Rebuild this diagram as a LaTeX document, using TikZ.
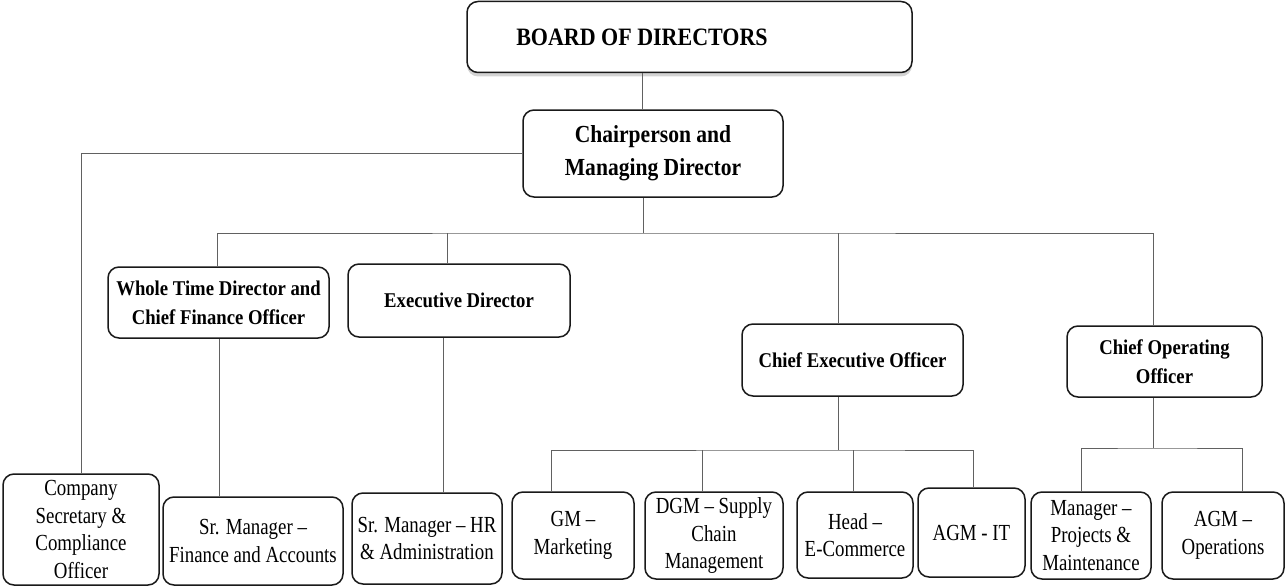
\documentclass[tikz,border=0pt]{standalone}
\usepackage{fontspec}
\setmainfont{Liberation Serif}
\newfontfamily\regf[FakeStretch=0.82,Ligatures=TeX]{Liberation Serif}
\newfontfamily\bldf[FakeStretch=0.89,Ligatures=TeX]{Liberation Serif}
\newfontfamily\topf[FakeStretch=0.88,Ligatures=TeX]{Liberation Serif}
\usetikzlibrary{shadows}
\tikzset{
  box/.style={draw=black!90, line width=1.5pt, rounded corners=11pt, fill=white, inner sep=1pt, align=center},
  lowbox/.style={box, font=\regf\fontsize{23}{27.5}\selectfont},
  midbox/.style={box, font=\bldf\bfseries\fontsize{21}{29}\selectfont},
  topbox/.style={box, font=\topf\bfseries\fontsize{24.5}{33}\selectfont},
  conn/.style={draw=black!62, line width=1pt},
}
\begin{document}
\begin{tikzpicture}[x=1pt,y=-1pt]
\useasboundingbox (0,0) rectangle (1286,586);
% top levels
\node[box, font=\topf\bfseries\fontsize{25}{29}\selectfont, minimum width=445pt, minimum height=71pt,
      drop shadow={shadow xshift=0pt, shadow yshift=-4pt, opacity=0.35}] (board) at (689.5,37)
      {\hspace*{-95pt}BOARD OF DIRECTORS};
\node[topbox, minimum width=260pt, minimum height=87pt] (chair) at (653,153.5) {Chairperson and\\Managing Director};
% second level
\node[midbox, minimum width=221pt, minimum height=71pt] (wtd) at (218.5,302.5) {Whole Time Director and\\Chief Finance Officer};
\node[midbox, minimum width=222pt, minimum height=73pt] (ed) at (459,300.5) {Executive Director};
\node[midbox, minimum width=221pt, minimum height=72pt] (ceo) at (852.5,360) {Chief Executive Officer};
\node[midbox, minimum width=195pt, minimum height=71pt] (coo) at (1164.5,361.5) {Chief Operating\\Officer};
% bottom level
\node[lowbox, minimum width=156pt, minimum height=111pt] (cs) at (81,529.5) {Company\\Secretary \&\\Compliance\\Officer};
\node[lowbox, minimum width=180pt, minimum height=88pt] (srfin) at (253,541) {Sr. Manager –\\Finance and Accounts};
\node[lowbox, minimum width=150pt, minimum height=91pt] (srhr) at (427,538.5) {Sr. Manager – HR\\\& Administration};
\node[lowbox, minimum width=122pt, minimum height=87pt] (gm) at (573,535.5) {GM –\\Marketing};
\node[lowbox, minimum width=138pt, minimum height=87pt] (dgm) at (714,535.5) {DGM – Supply\\Chain\\Management};
\node[lowbox, minimum width=116pt, minimum height=86pt] (head) at (855,535) {Head –\\E-Commerce};
\node[lowbox, minimum width=107pt, minimum height=89pt] (agmit) at (971.5,532.5) {AGM - IT};
\node[lowbox, minimum width=120pt, minimum height=87pt] (mgr) at (1091,535.5) {Manager –\\Projects \&\\Maintenance};
\node[lowbox, minimum width=122pt, minimum height=87pt] (agmops) at (1223,535.5) {AGM –\\Operations};
% connectors
\coordinate (busA) at (643,233);
\coordinate (busB) at (838,450);
\coordinate (busC) at (1153,448);
\draw[conn] (board.south -| 642,0) -- (chair.north -| 642,0);
\draw[conn] (chair.west) -| (cs.north);
\draw[conn] (chair.south -| busA) -- (busA);
\draw[conn] (wtd.north -| 217,0) |- (busA) -| (coo.north -| busC);
\draw[conn] (ed.north -| 447,0) -- (447,233);
\draw[conn] (ceo.north -| busB) -- (838,233);
\draw[conn] (wtd.south -| 219,0) -- (srfin.north -| 219,0);
\draw[conn] (ed.south -| 443,0) -- (srhr.north -| 443,0);
\draw[conn] (ceo.south -| busB) -- (busB);
\draw[conn] (gm.north -| 551,0) |- (busB) -| (agmit.north -| 973,0);
\draw[conn] (dgm.north -| 702,0) -- (702,450);
\draw[conn] (head.north -| 853,0) -- (853,450);
\draw[conn] (coo.south -| busC) -- (busC);
\draw[conn] (mgr.north -| 1081,0) |- (busC) -| (agmops.north -| 1242,0);
\end{tikzpicture}
\end{document}
